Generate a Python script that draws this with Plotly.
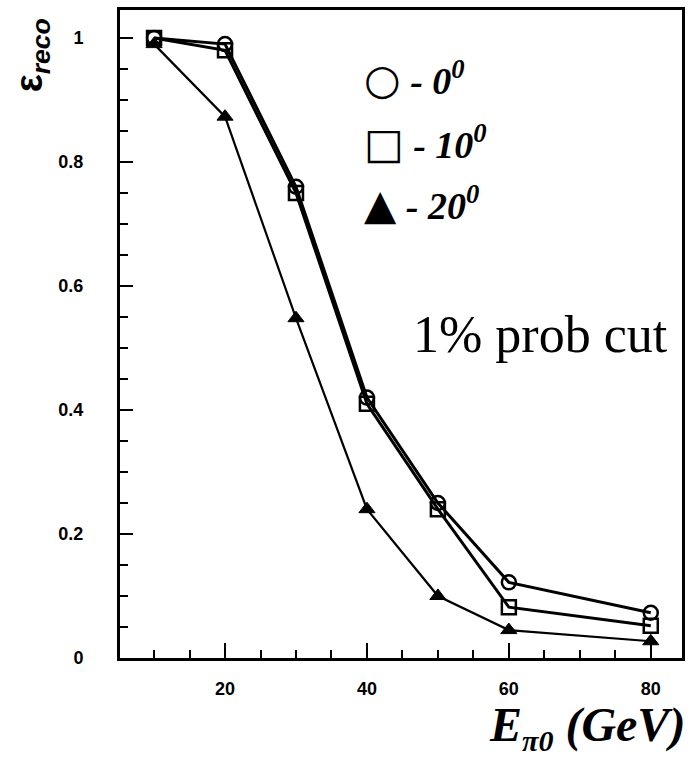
import plotly.graph_objects as go

energy = [10, 20, 30, 40, 50, 60, 80]
eff_0deg = [1.0, 0.99, 0.76, 0.42, 0.25, 0.122, 0.073]
eff_10deg = [1.0, 0.98, 0.75, 0.41, 0.24, 0.082, 0.052]
eff_20deg = [0.99, 0.873, 0.548, 0.24, 0.10, 0.045, 0.027]
x_ticks = [20, 40, 60, 80]
y_ticks = [0, 0.2, 0.4, 0.6, 0.8, 1.0]
y_tick_text = ["0", "0.2", "0.4", "0.6", "0.8", "1"]

fig = go.Figure()
fig.add_trace(go.Scatter(x=energy, y=eff_20deg, mode="lines+markers",
                         line=dict(color="black", width=2.2),
                         marker=dict(symbol="triangle-up", size=14, color="black",
                                     line=dict(color="black", width=1))))
fig.add_trace(go.Scatter(x=energy, y=eff_10deg, mode="lines+markers",
                         line=dict(color="black", width=3),
                         marker=dict(symbol="square-open", size=14, color="black",
                                     line=dict(color="black", width=2.5))))
fig.add_trace(go.Scatter(x=energy, y=eff_0deg, mode="lines+markers",
                         line=dict(color="black", width=3),
                         marker=dict(symbol="circle-open", size=14, color="black",
                                     line=dict(color="black", width=2.5))))

tickfont = dict(family="Liberation Sans, Arial, sans-serif", size=18, color="black",
                weight="bold")
fig.update_xaxes(range=[5.2, 84.4], tickvals=x_ticks, ticks="inside", ticklen=15,
                 tickwidth=1.5, tickcolor="black", showline=True, linewidth=3,
                 linecolor="black", mirror=True, showgrid=False, zeroline=False,
                 tickfont=tickfont, ticklabelstandoff=12,
                 minor=dict(dtick=5, tick0=0, ticks="inside", ticklen=8,
                            tickwidth=1.5, tickcolor="black", showgrid=False))
fig.update_yaxes(range=[0, 1.045], tickvals=y_ticks, ticktext=y_tick_text,
                 ticks="inside", ticklen=13, tickwidth=1.5, tickcolor="black",
                 showline=True, linewidth=3, linecolor="black", mirror=True,
                 showgrid=False, zeroline=False, tickfont=tickfont,
                 ticklabelstandoff=30,
                 minor=dict(dtick=0.05, tick0=0, ticks="inside", ticklen=8,
                            tickwidth=1.5, tickcolor="black", showgrid=False))

serif_bi = "Liberation Serif, Times New Roman, serif"
legend_items = [("○", "0", 0.893), ("□", "10", 0.795), ("▲", "20", 0.70)]
for sym, ang, yy in legend_items:
    fig.add_annotation(xref="paper", yref="paper", x=0.43, y=yy, xanchor="left",
                       yanchor="middle", showarrow=False,
                       text=f"<span style='font-family:DejaVu Sans;font-size:42px'>{sym}</span>"
                            f"<b><i> - {ang}<sup>0</sup></i></b>",
                       font=dict(family=serif_bi, size=38, color="black"))

fig.add_annotation(xref="paper", yref="paper", x=0.978, y=0.50, xanchor="right",
                   yanchor="middle", showarrow=False, text="1% prob cut",
                   font=dict(family=serif_bi, size=52, color="black"))

fig.add_annotation(xref="paper", yref="paper", x=1.008, y=-0.154, xanchor="right",
                   yanchor="bottom", showarrow=False, borderpad=0,
                   text="<b><i>E<sub><span style='font-size:30px'>π0</span></sub> (GeV)</i></b>",
                   font=dict(family=serif_bi, size=48, color="black"))

fig.add_annotation(xref="paper", yref="paper", x=-0.155, y=0.99, xanchor="center",
                   yanchor="top", showarrow=False, textangle=-90,
                   text="<b>ε<sub><i>reco</i></sub></b>",
                   font=dict(family="Liberation Sans, Arial, sans-serif", size=38,
                             color="black"))

fig.update_layout(width=691, height=758, showlegend=False,
                  margin=dict(l=120, r=6, t=10, b=100),
                  paper_bgcolor="white", plot_bgcolor="white")

fig.write_html("out.html")
